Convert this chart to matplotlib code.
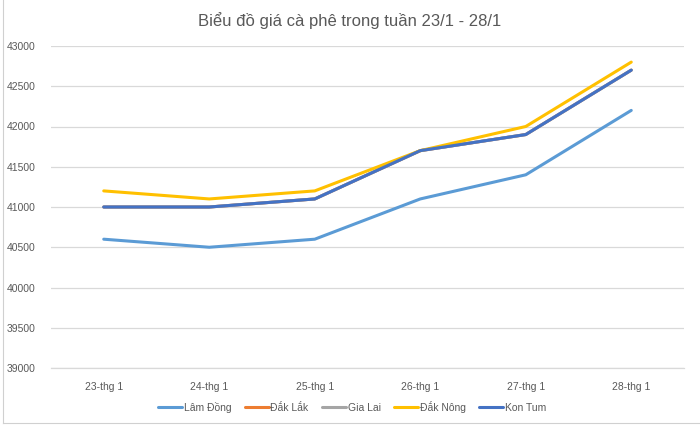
import matplotlib
matplotlib.use("Agg")
import matplotlib.pyplot as plt
from matplotlib.lines import Line2D

categories = ["23-thg 1", "24-thg 1", "25-thg 1", "26-thg 1", "27-thg 1", "28-thg 1"]
lam_dong = [40600, 40500, 40600, 41100, 41400, 42200]
dak_lak = [41000, 41000, 41100, 41700, 41900, 42700]
gia_lai = [41000, 41000, 41100, 41700, 41900, 42700]
dak_nong = [41200, 41100, 41200, 41700, 42000, 42800]
kon_tum = [41000, 41000, 41100, 41700, 41900, 42700]
series_names = ["Lâm Đồng", "Đắk Lắk", "Gia Lai", "Đắk Nông", "Kon Tum"]
y_ticks = [39000, 39500, 40000, 40500, 41000, 41500, 42000, 42500, 43000]
title = "Biểu đồ giá cà phê trong tuần 23/1 - 28/1"

colors = ["#5B9BD5", "#ED7D31", "#A5A5A5", "#FFC000", "#4472C4"]
series = [lam_dong, dak_lak, gia_lai, dak_nong, kon_tum]

plt.rcParams['font.family'] = ['Liberation Sans', 'DejaVu Sans']

fig = plt.figure(figsize=(7, 4.29), dpi=100)
fig.patch.set_facecolor("white")
# chart border (left and bottom edges visible in the screenshot)
fig.add_artist(Line2D([3/700, 3/700], [1 - 423/429, 1.0], transform=fig.transFigure,
                      color="#d0d0d0", linewidth=0.8))
fig.add_artist(Line2D([3/700, 1.0], [1 - 423/429, 1 - 423/429], transform=fig.transFigure,
                      color="#d0d0d0", linewidth=0.8))

ax = fig.add_axes([51/700, 1 - 368/429, (684 - 51)/700, (368 - 46)/429])
x = list(range(len(categories)))
for name, vals, c in zip(series_names, series, colors):
    ax.plot(x, vals, color=c, linewidth=2.2, label=name, solid_capstyle="round")

ax.set_xlim(-0.5, len(categories) - 0.5)
ax.set_ylim(39000, 43000)
ax.set_yticks(y_ticks)
ax.set_yticklabels([str(v) for v in y_ticks])
ax.set_xticks(x)
ax.set_xticklabels(categories)
ax.grid(axis="y", color="#d9d9d9", linewidth=0.9)
ax.set_axisbelow(True)
for s in ["top", "right", "left"]:
    ax.spines[s].set_visible(False)
ax.spines["bottom"].set_color("#d9d9d9")
ax.spines["bottom"].set_linewidth(0.9)
ax.tick_params(axis="both", length=0, colors="#595959", labelsize=7.5)
ax.tick_params(axis="y", pad=11)
ax.tick_params(axis="x", pad=10)

fig.text(0.5, 1 - 21/429, title, ha="center", va="center", fontsize=12, color="#595959")

leg = fig.legend(loc="center", bbox_to_anchor=(352/700, 1 - 407/429), ncol=5, frameon=False,
                 fontsize=7.5, handlelength=2.3, handletextpad=0.15, columnspacing=1.3)
for t in leg.get_texts():
    t.set_color("#595959")

fig.savefig("out.png", dpi=100, facecolor="white")
